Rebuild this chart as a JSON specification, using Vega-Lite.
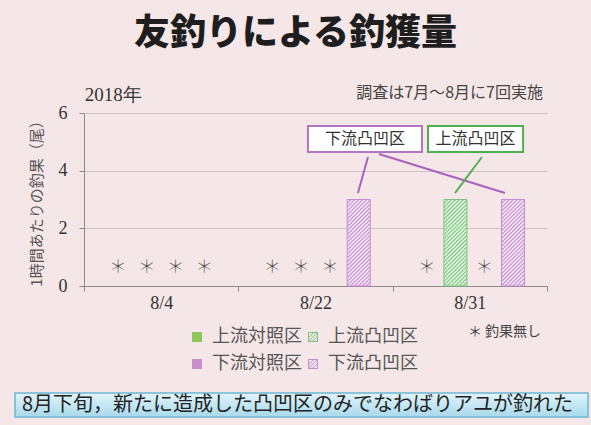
{
  "$schema": "https://vega.github.io/schema/vega-lite/v6.json",
  "width": 463,
  "height": 173,
  "autosize": {"type": "none"},
  "padding": {"left": 84, "top": 113, "right": 44, "bottom": 139},
  "background": "#f5e7e7",
  "config": {"view": {"stroke": null}, "font": "Noto Sans CJK JP"},
  "title": {"text": "友釣りによる釣獲量", "font": "Noto Sans CJK JP", "fontSize": 36, "fontWeight": 900, "color": "#1e1e1e", "anchor": "middle", "dx": -20, "offset": -4, "baseline": "bottom"},
  "datasets": {
    "catch": [
      {"date": "8/4", "plot": "上流対照区", "value": 0},
      {"date": "8/4", "plot": "上流凸凹区", "value": 0},
      {"date": "8/4", "plot": "下流対照区", "value": 0},
      {"date": "8/4", "plot": "下流凸凹区", "value": 0},
      {"date": "8/22", "plot": "上流対照区", "value": 0},
      {"date": "8/22", "plot": "上流凸凹区", "value": 0},
      {"date": "8/22", "plot": "下流対照区", "value": 0},
      {"date": "8/22", "plot": "下流凸凹区", "value": 3},
      {"date": "8/31", "plot": "上流対照区", "value": 0},
      {"date": "8/31", "plot": "上流凸凹区", "value": 3},
      {"date": "8/31", "plot": "下流対照区", "value": 0},
      {"date": "8/31", "plot": "下流凸凹区", "value": 3}
    ],
    "labels": [
      {"key": "year", "text": "2018年", "x": 0.005, "y": 6.62},
      {"key": "survey", "text": "調査は7月～8月に7回実施", "x": 2.974, "y": 6.69},
      {"key": "none", "text": "＊ 釣果無し", "x": 2.488, "y": -1.6},
      {"key": "caption", "text": "8月下旬，新たに造成した凸凹区のみでなわばりアユが釣れた", "x": -0.402, "y": -4.127}
    ],
    "boxes": [
      {"plot": "下流凸凹区", "x": 1.451, "x2": 2.19, "y": 5.549, "y2": 4.647, "tx": 1.821, "ty": 5.098},
      {"plot": "上流凸凹区", "x": 2.229, "x2": 2.845, "y": 5.549, "y2": 4.647, "tx": 2.537, "ty": 5.098}
    ],
    "leaders": [
      {"plot": "下流凸凹区", "x": 1.84, "y": 4.474, "x2": 1.775, "y2": 3.225},
      {"plot": "下流凸凹区", "x": 1.911, "y": 4.578, "x2": 2.728, "y2": 3.225},
      {"plot": "上流凸凹区", "x": 2.579, "y": 4.474, "x2": 2.404, "y2": 3.225}
    ],
    "captionBox": [
      {"x": -0.447, "x2": 3.266, "y": -3.711, "y2": -4.544}
    ]
  },
  "resolve": {"scale": {"x": "independent", "y": "independent"}},
  "layer": [
    {
      "data": {"name": "catch"},
      "layer": [
        {
          "transform": [{"filter": "datum.value > 0"}],
          "mark": {"type": "bar", "strokeWidth": 1, "clip": false},
          "encoding": {
            "x": {"field": "date", "type": "nominal", "sort": null,
              "scale": {"domain": ["8/4", "8/22", "8/31"], "paddingInner": 0, "paddingOuter": 0},
              "axis": {"title": null, "labelFont": "Liberation Serif", "labelFontSize": 18, "labelColor": "#333333", "labelAngle": 0, "tickBand": "extent", "tickSize": 5, "tickColor": "#8a8a8a", "domainColor": "#8a8a8a", "labelPadding": 3, "grid": false}},
            "xOffset": {"field": "plot", "type": "nominal", "sort": null,
              "scale": {"domain": ["上流対照区", "上流凸凹区", "下流対照区", "下流凸凹区"], "paddingInner": 0.2, "paddingOuter": 0.78}},
            "y": {"field": "value", "type": "quantitative",
              "scale": {"domain": [0, 6], "nice": false},
              "axis": {"title": "1時間あたりの釣果（尾）", "values": [0, 2, 4, 6], "grid": true, "gridColor": "#cbc3c3", "labelFont": "Liberation Serif", "labelFontSize": 18, "labelColor": "#333333", "tickSize": 5, "tickColor": "#8a8a8a", "domainColor": "#8a8a8a", "labelPadding": 12, "titleFont": "Noto Sans CJK JP", "titleFontSize": 15, "titleFontWeight": "normal", "titleColor": "#555555", "titlePadding": 14}},
            "fill": {
              "condition": [
                {"test": "datum.plot == '上流凸凹区'", "value": {"gradient": "linear", "x1": 0, "y1": 0, "x2": 0.3124, "y2": 1.1818, "stops": [
                    {"offset": 0, "color": "#74c476"}, {"offset": 0.0179, "color": "#ffffff"},
                    {"offset": 0.0357, "color": "#74c476"}, {"offset": 0.0536, "color": "#ffffff"},
                    {"offset": 0.0714, "color": "#74c476"}, {"offset": 0.0893, "color": "#ffffff"},
                    {"offset": 0.1071, "color": "#74c476"}, {"offset": 0.125, "color": "#ffffff"},
                    {"offset": 0.1429, "color": "#74c476"}, {"offset": 0.1607, "color": "#ffffff"},
                    {"offset": 0.1786, "color": "#74c476"}, {"offset": 0.1964, "color": "#ffffff"},
                    {"offset": 0.2143, "color": "#74c476"}, {"offset": 0.2321, "color": "#ffffff"},
                    {"offset": 0.25, "color": "#74c476"}, {"offset": 0.2679, "color": "#ffffff"},
                    {"offset": 0.2857, "color": "#74c476"}, {"offset": 0.3036, "color": "#ffffff"},
                    {"offset": 0.3214, "color": "#74c476"}, {"offset": 0.3393, "color": "#ffffff"},
                    {"offset": 0.3571, "color": "#74c476"}, {"offset": 0.375, "color": "#ffffff"},
                    {"offset": 0.3929, "color": "#74c476"}, {"offset": 0.4107, "color": "#ffffff"},
                    {"offset": 0.4286, "color": "#74c476"}, {"offset": 0.4464, "color": "#ffffff"},
                    {"offset": 0.4643, "color": "#74c476"}, {"offset": 0.4821, "color": "#ffffff"},
                    {"offset": 0.5, "color": "#74c476"}, {"offset": 0.5179, "color": "#ffffff"},
                    {"offset": 0.5357, "color": "#74c476"}, {"offset": 0.5536, "color": "#ffffff"},
                    {"offset": 0.5714, "color": "#74c476"}, {"offset": 0.5893, "color": "#ffffff"},
                    {"offset": 0.6071, "color": "#74c476"}, {"offset": 0.625, "color": "#ffffff"},
                    {"offset": 0.6429, "color": "#74c476"}, {"offset": 0.6607, "color": "#ffffff"},
                    {"offset": 0.6786, "color": "#74c476"}, {"offset": 0.6964, "color": "#ffffff"},
                    {"offset": 0.7143, "color": "#74c476"}, {"offset": 0.7321, "color": "#ffffff"},
                    {"offset": 0.75, "color": "#74c476"}, {"offset": 0.7679, "color": "#ffffff"},
                    {"offset": 0.7857, "color": "#74c476"}, {"offset": 0.8036, "color": "#ffffff"},
                    {"offset": 0.8214, "color": "#74c476"}, {"offset": 0.8393, "color": "#ffffff"},
                    {"offset": 0.8571, "color": "#74c476"}, {"offset": 0.875, "color": "#ffffff"},
                    {"offset": 0.8929, "color": "#74c476"}, {"offset": 0.9107, "color": "#ffffff"},
                    {"offset": 0.9286, "color": "#74c476"}, {"offset": 0.9464, "color": "#ffffff"},
                    {"offset": 0.9643, "color": "#74c476"}, {"offset": 0.9821, "color": "#ffffff"},
                    {"offset": 1, "color": "#74c476"}
                  ]}},
                {"test": "datum.plot == '下流凸凹区'", "value": {"gradient": "linear", "x1": 0, "y1": 0, "x2": 0.3124, "y2": 1.1818, "stops": [
                    {"offset": 0, "color": "#c586d0"}, {"offset": 0.0179, "color": "#ffffff"},
                    {"offset": 0.0357, "color": "#c586d0"}, {"offset": 0.0536, "color": "#ffffff"},
                    {"offset": 0.0714, "color": "#c586d0"}, {"offset": 0.0893, "color": "#ffffff"},
                    {"offset": 0.1071, "color": "#c586d0"}, {"offset": 0.125, "color": "#ffffff"},
                    {"offset": 0.1429, "color": "#c586d0"}, {"offset": 0.1607, "color": "#ffffff"},
                    {"offset": 0.1786, "color": "#c586d0"}, {"offset": 0.1964, "color": "#ffffff"},
                    {"offset": 0.2143, "color": "#c586d0"}, {"offset": 0.2321, "color": "#ffffff"},
                    {"offset": 0.25, "color": "#c586d0"}, {"offset": 0.2679, "color": "#ffffff"},
                    {"offset": 0.2857, "color": "#c586d0"}, {"offset": 0.3036, "color": "#ffffff"},
                    {"offset": 0.3214, "color": "#c586d0"}, {"offset": 0.3393, "color": "#ffffff"},
                    {"offset": 0.3571, "color": "#c586d0"}, {"offset": 0.375, "color": "#ffffff"},
                    {"offset": 0.3929, "color": "#c586d0"}, {"offset": 0.4107, "color": "#ffffff"},
                    {"offset": 0.4286, "color": "#c586d0"}, {"offset": 0.4464, "color": "#ffffff"},
                    {"offset": 0.4643, "color": "#c586d0"}, {"offset": 0.4821, "color": "#ffffff"},
                    {"offset": 0.5, "color": "#c586d0"}, {"offset": 0.5179, "color": "#ffffff"},
                    {"offset": 0.5357, "color": "#c586d0"}, {"offset": 0.5536, "color": "#ffffff"},
                    {"offset": 0.5714, "color": "#c586d0"}, {"offset": 0.5893, "color": "#ffffff"},
                    {"offset": 0.6071, "color": "#c586d0"}, {"offset": 0.625, "color": "#ffffff"},
                    {"offset": 0.6429, "color": "#c586d0"}, {"offset": 0.6607, "color": "#ffffff"},
                    {"offset": 0.6786, "color": "#c586d0"}, {"offset": 0.6964, "color": "#ffffff"},
                    {"offset": 0.7143, "color": "#c586d0"}, {"offset": 0.7321, "color": "#ffffff"},
                    {"offset": 0.75, "color": "#c586d0"}, {"offset": 0.7679, "color": "#ffffff"},
                    {"offset": 0.7857, "color": "#c586d0"}, {"offset": 0.8036, "color": "#ffffff"},
                    {"offset": 0.8214, "color": "#c586d0"}, {"offset": 0.8393, "color": "#ffffff"},
                    {"offset": 0.8571, "color": "#c586d0"}, {"offset": 0.875, "color": "#ffffff"},
                    {"offset": 0.8929, "color": "#c586d0"}, {"offset": 0.9107, "color": "#ffffff"},
                    {"offset": 0.9286, "color": "#c586d0"}, {"offset": 0.9464, "color": "#ffffff"},
                    {"offset": 0.9643, "color": "#c586d0"}, {"offset": 0.9821, "color": "#ffffff"},
                    {"offset": 1, "color": "#c586d0"}
                  ]}},
                {"test": "datum.plot == '上流対照区'", "value": "#8dc75c"}
              ],
              "value": "#c98fca"
            },
            "stroke": {
              "condition": [
                {"test": "datum.plot == '上流凸凹区'", "value": "#7cc47e"},
                {"test": "datum.plot == '上流対照区'", "value": "#8dc75c"}
              ],
              "value": "#c68bd1"
            }
          }
        },
        {
          "transform": [{"filter": "datum.value == 0"}],
          "mark": {"type": "text", "text": "＊", "font": "Noto Sans CJK JP", "fontSize": 18, "fontWeight": 100, "color": "#444444", "baseline": "middle", "align": "center", "clip": false},
          "encoding": {
            "x": {"field": "date", "type": "nominal", "sort": null, "scale": {"domain": ["8/4", "8/22", "8/31"], "paddingInner": 0, "paddingOuter": 0}},
            "xOffset": {"field": "plot", "type": "nominal", "sort": null, "scale": {"domain": ["上流対照区", "上流凸凹区", "下流対照区", "下流凸凹区"], "paddingInner": 0.2, "paddingOuter": 0.78}},
            "y": {"datum": 0.62, "type": "quantitative"}
          }
        }
      ]
    },
    {
      "data": {"name": "catch"},
      "transform": [{"filter": "false"}],
      "mark": {"type": "point", "filled": true, "opacity": 1},
      "encoding": {
        "color": {"field": "plot", "type": "nominal",
          "scale": {"domain": ["上流対照区", "上流凸凹区", "下流対照区", "下流凸凹区"], "range": ["#8dc75c", "#7cc47e", "#c98fca", "#c68bd1"]},
          "legend": {"orient": "none", "direction": "horizontal", "legendX": 104, "legendY": 215, "columns": 2, "title": null, "symbolSize": 100, "symbolStrokeWidth": 0, "symbolOpacity": 1, "labelFont": "Noto Sans CJK JP", "labelFontSize": 18, "labelColor": "#555555", "labelOffset": 6, "columnPadding": 2, "rowPadding": 9}},
        "shape": {"field": "plot", "type": "nominal",
          "scale": {"domain": ["上流対照区", "上流凸凹区", "下流対照区", "下流凸凹区"],
            "range": [
              "M-1,-1H1V1H-1Z",
              "M-1,-1H1V1H-1Z M-0.8,-0.8V0.8H0.8V-0.8Z M-0.8,-0.07L-0.07,-0.8L0.17,-0.8L-0.8,0.17Z M-0.8,0.68L0.68,-0.8L0.8,-0.8L0.8,-0.68L-0.68,0.8L-0.8,0.8Z M0.8,-0.17L0.8,0.07L0.07,0.8L-0.17,0.8Z",
              "M-1,-1H1V1H-1Z",
              "M-1,-1H1V1H-1Z M-0.8,-0.8V0.8H0.8V-0.8Z M-0.8,-0.07L-0.07,-0.8L0.17,-0.8L-0.8,0.17Z M-0.8,0.68L0.68,-0.8L0.8,-0.8L0.8,-0.68L-0.68,0.8L-0.8,0.8Z M0.8,-0.17L0.8,0.07L0.07,0.8L-0.17,0.8Z"
            ]},
          "legend": {"orient": "none", "direction": "horizontal", "legendX": 104, "legendY": 215, "columns": 2, "title": null, "symbolSize": 100, "symbolStrokeWidth": 0, "labelFont": "Noto Sans CJK JP", "labelFontSize": 18, "labelColor": "#555555", "labelOffset": 6, "columnPadding": 2, "rowPadding": 9}}
      }
    },
    {
      "layer": [
        {
          "data": {"name": "captionBox"},
          "mark": {"type": "rect", "clip": false, "stroke": "#6cb6d3", "strokeWidth": 1.5,
            "fill": {"gradient": "linear", "x1": 0, "y1": 0, "x2": 0, "y2": 1, "stops": [{"offset": 0, "color": "#e2f4fa"}, {"offset": 1, "color": "#a7d9ec"}]}},
          "encoding": {
            "x": {"field": "x", "type": "quantitative", "scale": {"domain": [0, 3], "nice": false, "zero": false}, "axis": null},
            "x2": {"field": "x2"},
            "y": {"field": "y", "type": "quantitative", "scale": {"domain": [0, 6], "nice": false, "zero": false}, "axis": null},
            "y2": {"field": "y2"}
          }
        },
        {
          "data": {"name": "labels"},
          "transform": [{"filter": "datum.key == 'caption'"}],
          "mark": {"type": "text", "align": "left", "baseline": "middle", "font": "Noto Sans CJK JP", "fontSize": 20, "color": "#222222", "clip": false},
          "encoding": {
            "x": {"field": "x", "type": "quantitative", "scale": {"domain": [0, 3], "nice": false, "zero": false}, "axis": null},
            "y": {"field": "y", "type": "quantitative", "scale": {"domain": [0, 6], "nice": false, "zero": false}, "axis": null},
            "text": {"field": "text"}
          }
        },
        {
          "data": {"name": "labels"},
          "transform": [{"filter": "datum.key == 'year'"}],
          "mark": {"type": "text", "align": "left", "baseline": "middle", "font": "Liberation Serif", "fontSize": 19, "color": "#333333", "clip": false},
          "encoding": {
            "x": {"field": "x", "type": "quantitative", "scale": {"domain": [0, 3], "nice": false, "zero": false}, "axis": null},
            "y": {"field": "y", "type": "quantitative", "scale": {"domain": [0, 6], "nice": false, "zero": false}, "axis": null},
            "text": {"field": "text"}
          }
        },
        {
          "data": {"name": "labels"},
          "transform": [{"filter": "datum.key == 'survey'"}],
          "mark": {"type": "text", "align": "right", "baseline": "middle", "font": "Noto Sans CJK JP", "fontSize": 16, "color": "#444444", "clip": false},
          "encoding": {
            "x": {"field": "x", "type": "quantitative", "scale": {"domain": [0, 3], "nice": false, "zero": false}, "axis": null},
            "y": {"field": "y", "type": "quantitative", "scale": {"domain": [0, 6], "nice": false, "zero": false}, "axis": null},
            "text": {"field": "text"}
          }
        },
        {
          "data": {"name": "labels"},
          "transform": [{"filter": "datum.key == 'none'"}],
          "mark": {"type": "text", "align": "left", "baseline": "middle", "font": "Noto Sans CJK JP", "fontSize": 14, "color": "#444444", "clip": false},
          "encoding": {
            "x": {"field": "x", "type": "quantitative", "scale": {"domain": [0, 3], "nice": false, "zero": false}, "axis": null},
            "y": {"field": "y", "type": "quantitative", "scale": {"domain": [0, 6], "nice": false, "zero": false}, "axis": null},
            "text": {"field": "text"}
          }
        },
        {
          "data": {"name": "leaders"},
          "mark": {"type": "rule", "strokeWidth": 2, "clip": false},
          "encoding": {
            "x": {"field": "x", "type": "quantitative", "scale": {"domain": [0, 3], "nice": false, "zero": false}, "axis": null},
            "x2": {"field": "x2"},
            "y": {"field": "y", "type": "quantitative", "scale": {"domain": [0, 6], "nice": false, "zero": false}, "axis": null},
            "y2": {"field": "y2"},
            "stroke": {"condition": {"test": "datum.plot == '上流凸凹区'", "value": "#4caf50"}, "value": "#a963bd"}
          }
        },
        {
          "data": {"name": "boxes"},
          "mark": {"type": "rect", "fill": "#ffffff", "strokeWidth": 2, "clip": false},
          "encoding": {
            "x": {"field": "x", "type": "quantitative", "scale": {"domain": [0, 3], "nice": false, "zero": false}, "axis": null},
            "x2": {"field": "x2"},
            "y": {"field": "y", "type": "quantitative", "scale": {"domain": [0, 6], "nice": false, "zero": false}, "axis": null},
            "y2": {"field": "y2"},
            "stroke": {"condition": {"test": "datum.plot == '上流凸凹区'", "value": "#4caf50"}, "value": "#b275c4"}
          }
        },
        {
          "data": {"name": "boxes"},
          "mark": {"type": "text", "align": "center", "baseline": "middle", "font": "Noto Sans CJK JP", "fontSize": 16, "fontWeight": "normal", "color": "#333333", "clip": false},
          "encoding": {
            "x": {"field": "tx", "type": "quantitative", "scale": {"domain": [0, 3], "nice": false, "zero": false}, "axis": null},
            "y": {"field": "ty", "type": "quantitative", "scale": {"domain": [0, 6], "nice": false, "zero": false}, "axis": null},
            "text": {"field": "plot"}
          }
        }
      ]
    }
  ]
}
